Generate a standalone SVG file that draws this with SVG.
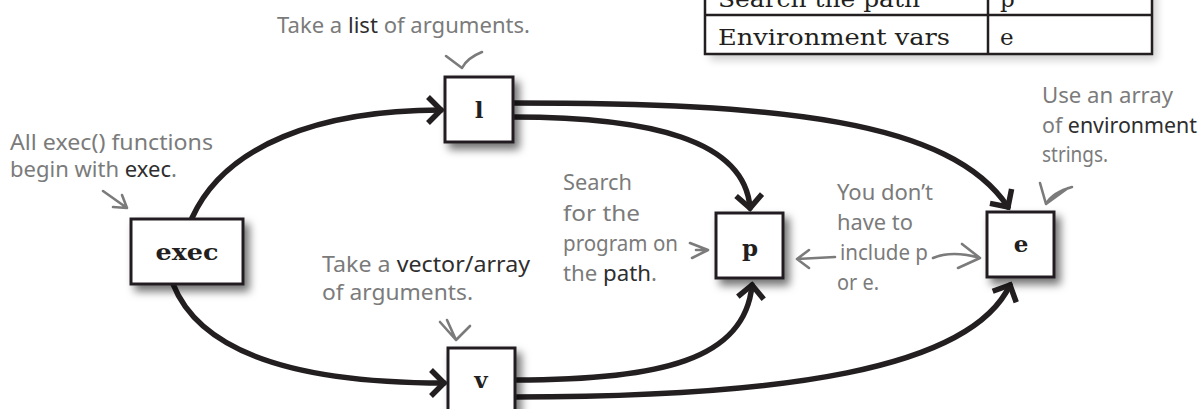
<svg xmlns="http://www.w3.org/2000/svg" width="1201" height="409" viewBox="0 0 1201 409">
<style>
.bg{fill:#ffffff}
.box{fill:#ffffff;stroke:#231f20;stroke-width:3}
.code{font-family:"DejaVu Serif","Liberation Serif",serif;font-weight:bold;font-size:23px;fill:#231f20;text-anchor:middle}
.conn{fill:none;stroke:#231f20;stroke-width:5.5;stroke-linecap:round}
.note{font-family:"Noto Sans","Open Sans",sans-serif;font-size:21px;fill:#7b7b7b}
.em{fill:#2e2e2e}
.pen{fill:none;stroke:#7b7b7b;stroke-width:2.6;stroke-linecap:round;stroke-linejoin:round}
.tbl{fill:none;stroke:#231f20;stroke-width:2.5}
.ttxt{font-family:"DejaVu Serif","Liberation Serif",serif;font-size:23px;fill:#231f20}
</style>
<defs>
<filter id="sh" x="-30%" y="-30%" width="170%" height="170%">
<feDropShadow dx="5" dy="6" stdDeviation="4" flood-color="#000" flood-opacity="0.55"/>
</filter>
<marker id="ah" markerUnits="userSpaceOnUse" markerWidth="40" markerHeight="40" viewBox="-20 -20 40 40" refX="0" refY="0" orient="auto">
<path d="M-13,-13 L0,0 L-13,13" fill="none" stroke="#231f20" stroke-width="5.5" stroke-linecap="butt" stroke-linejoin="miter"/>
</marker>
</defs>
<rect class="bg" x="0" y="0" width="1201" height="409"/>

<g id="table">
<rect x="705" y="-40" width="447" height="94" fill="#fff" filter="url(#sh)" opacity="0.35"/>
<rect class="tbl" x="705" y="-40" width="447" height="94" fill="#fff"/>
<line class="tbl" x1="705" y1="15" x2="1152" y2="15"/>
<line class="tbl" x1="988" y1="-40" x2="988" y2="54"/>
<text class="ttxt" x="718" y="7" textLength="202" lengthAdjust="spacingAndGlyphs">Search the path</text>
<text class="ttxt" x="1000" y="7">p</text>
<text class="ttxt" x="718" y="45" textLength="232" lengthAdjust="spacingAndGlyphs">Environment vars</text>
<text class="ttxt" x="1000" y="45">e</text>
</g>

<g id="connectors">
<path class="conn" d="M192,218 C225,145 320,110 441,110" marker-end="url(#ah)"/>
<path class="conn" d="M173,284 C205,365 330,383 444,383" marker-end="url(#ah)"/>
<path class="conn" d="M513,117 C650,117 745,140 750,208" marker-end="url(#ah)"/>
<path class="conn" d="M513,103 C780,103 950,120 1008,207" marker-end="url(#ah)"/>
<path class="conn" d="M515,380 C660,380 745,360 752,285" marker-end="url(#ah)"/>
<path class="conn" d="M515,397 C780,397 970,370 1010,285" marker-end="url(#ah)"/>
</g>

<g id="node-exec">
<rect class="box" x="131" y="219" width="112" height="65" filter="url(#sh)"/>
<text class="code" x="187" y="260" textLength="63" lengthAdjust="spacingAndGlyphs">exec</text>
</g>
<g id="node-l">
<rect class="box" x="445" y="77" width="68" height="65" filter="url(#sh)"/>
<text class="code" x="479" y="118">l</text>
</g>
<g id="node-p">
<rect class="box" x="716" y="213" width="67" height="65" filter="url(#sh)"/>
<text class="code" x="750" y="256">p</text>
</g>
<g id="node-e">
<rect class="box" x="987" y="212" width="67" height="65" filter="url(#sh)"/>
<text class="code" x="1021" y="252">e</text>
</g>
<g id="node-v">
<rect class="box" x="448" y="348" width="67" height="80" filter="url(#sh)"/>
<text class="code" x="481" y="388">v</text>
</g>

<g id="annotations">
<text class="note" x="277" y="33" textLength="253" lengthAdjust="spacingAndGlyphs">Take a <tspan class="em">list</tspan> of arguments.</text>
<path class="pen" d="M446,56 L462,68 Q467,58 482,52"/>

<text class="note" x="10" y="150" textLength="203" lengthAdjust="spacingAndGlyphs">All exec() functions</text>
<text class="note" x="10" y="177" textLength="167" lengthAdjust="spacingAndGlyphs">begin with <tspan class="em">exec</tspan>.</text>
<path class="pen" d="M103,191 L127,208 M113,207 L127,208 L122,195"/>

<text class="note" x="322" y="272" textLength="208" lengthAdjust="spacingAndGlyphs">Take a <tspan class="em">vector/array</tspan></text>
<text class="note" x="322" y="300" textLength="151" lengthAdjust="spacingAndGlyphs">of arguments.</text>
<path class="pen" d="M440,322 L456,340 L470,326 M447,320 L456,340"/>

<text class="note" x="563" y="190" textLength="69" lengthAdjust="spacingAndGlyphs">Search</text>
<text class="note" x="563" y="221" textLength="77" lengthAdjust="spacingAndGlyphs">for the</text>
<text class="note" x="563" y="251" textLength="115" lengthAdjust="spacingAndGlyphs">program on</text>
<text class="note" x="563" y="281" textLength="94" lengthAdjust="spacingAndGlyphs">the <tspan class="em">path</tspan>.</text>
<path class="pen" d="M690,243 L708,250 L692,258 M696,250 L707,250"/>

<text class="note" x="837" y="200" textLength="96" lengthAdjust="spacingAndGlyphs">You don’t</text>
<text class="note" x="837" y="230" textLength="76" lengthAdjust="spacingAndGlyphs">have to</text>
<text class="note" x="840" y="260" textLength="88" lengthAdjust="spacingAndGlyphs">include p</text>
<text class="note" x="837" y="290" textLength="42" lengthAdjust="spacingAndGlyphs">or e.</text>
<path class="pen" d="M835,257 Q815,258 797,259 M809,250 L797,259 L809,268"/>
<path class="pen" d="M933,258 Q952,250 980,258 M962,244 L980,258 L958,268"/>

<text class="note" x="1042" y="103" textLength="131" lengthAdjust="spacingAndGlyphs">Use an array</text>
<text class="note" x="1042" y="133" textLength="155" lengthAdjust="spacingAndGlyphs">of <tspan class="em">environment</tspan></text>
<text class="note" x="1042" y="162" textLength="66" lengthAdjust="spacingAndGlyphs">strings.</text>
<path class="pen" d="M1040,183 L1046,204 L1068,188 M1046,204 Q1053,192 1072,187"/>
</g>
</svg>
